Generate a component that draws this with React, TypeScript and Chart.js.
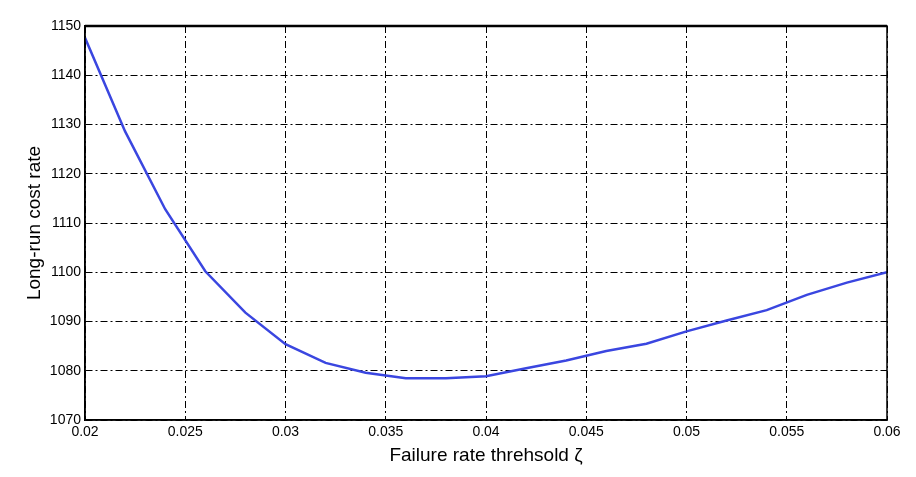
import React, { useEffect, useRef } from "react";
import { Chart, registerables } from "chart.js";

Chart.register(...registerables);

const thresholds = [0.02, 0.022, 0.024, 0.026, 0.028, 0.03, 0.032, 0.034, 0.036, 0.038, 0.04, 0.042, 0.044, 0.046, 0.048, 0.05, 0.052, 0.054, 0.056, 0.058, 0.06];
const costRate = [1147.6, 1128.6, 1112.8, 1100.2, 1091.8, 1085.4, 1081.6, 1079.6, 1078.5, 1078.5, 1078.9, 1080.5, 1082.1, 1084.0, 1085.5, 1088.0, 1090.2, 1092.3, 1095.4, 1097.9, 1100.0];
const xTicks = [0.02, 0.025, 0.03, 0.035, 0.04, 0.045, 0.05, 0.055, 0.06];
const yTicks = [1070, 1080, 1090, 1100, 1110, 1120, 1130, 1140, 1150];
const xTitle = "Failure rate threhsold \u03B6";
const yTitle = "Long-run cost rate";

const FONT = "'Liberation Sans', Arial, sans-serif";

const frame = {
  id: "frame",
  afterDatasetsDraw(chart: any) {
    const { ctx, chartArea } = chart;
    ctx.save();
    ctx.strokeStyle = "#000";
    ctx.lineWidth = 1.5;
    ctx.setLineDash([]);
    ctx.strokeRect(chartArea.left, chartArea.top, chartArea.right - chartArea.left, chartArea.bottom - chartArea.top);
    ctx.lineWidth = 2.5;
    ctx.beginPath();
    ctx.moveTo(chartArea.left, chartArea.top);
    ctx.lineTo(chartArea.right, chartArea.top);
    ctx.stroke();
    ctx.restore();
  },
};

export default function App() {
  const ref = useRef<HTMLCanvasElement>(null);
  useEffect(() => {
    const chart = new Chart(ref.current!, {
      type: "line",
      data: {
        datasets: [
          {
            data: thresholds.map((x, i) => ({ x, y: costRate[i] })),
            borderColor: "#3a46e0",
            borderWidth: 2.5,
            pointRadius: 0,
            tension: 0,
            fill: false,
          },
        ],
      },
      options: {
        animation: false,
        responsive: false,
        maintainAspectRatio: false,
        layout: { padding: { left: 0, right: 29, top: 26, bottom: 0 } },
        plugins: { legend: { display: false }, tooltip: { enabled: false } },
        scales: {
          x: {
            type: "linear",
            min: 0.02,
            max: 0.06,
            afterBuildTicks: (s: any) => {
              s.ticks = xTicks.map((v) => ({ value: v }));
            },
            afterFit: (s: any) => {
              s.height = 57;
            },
            ticks: {
              color: "#000",
              font: { family: FONT, size: 14 },
              padding: 4,
              maxRotation: 0,
              autoSkip: false,
              callback: (v: any) => String(Number(v)),
            },
            grid: { color: "#000", lineWidth: 1, drawTicks: false, tickLength: 0 },
            border: { display: true, color: "#000", width: 1.5, dash: [7, 3, 2, 3] },
            title: { display: true, text: xTitle, color: "#000", font: { family: FONT, size: 19 }, padding: { top: 0, bottom: 10 } },
          },
          y: {
            type: "linear",
            min: 1070,
            max: 1150,
            afterBuildTicks: (s: any) => {
              s.ticks = yTicks.map((v) => ({ value: v }));
            },
            afterFit: (s: any) => {
              s.width = 85;
            },
            ticks: {
              color: "#000",
              font: { family: FONT, size: 14 },
              padding: 4,
              autoSkip: false,
              callback: (v: any) => String(Number(v)),
            },
            grid: { color: "#000", lineWidth: 1, drawTicks: false, tickLength: 0 },
            border: { display: true, color: "#000", width: 1.5, dash: [7, 3, 2, 3] },
            title: { display: true, text: yTitle, color: "#000", font: { family: FONT, size: 19 }, padding: { top: 23, bottom: 0 } },
          },
        },
      },
      plugins: [frame],
    } as any);
    return () => chart.destroy();
  }, []);
  return (
    <div style={{ position: "fixed", left: 0, top: 0, width: 916, height: 477, background: "#fff" }}>
      <canvas ref={ref} width={916} height={477} style={{ display: "block" }} />
    </div>
  );
}
